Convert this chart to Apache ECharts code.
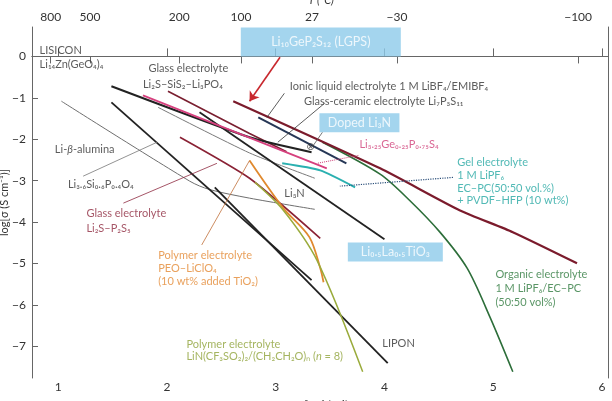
<!DOCTYPE html>
<html>
<head>
<meta charset="utf-8">
<script src="https://cdn.jsdelivr.net/npm/echarts@6/dist/echarts.min.js"></script>
<style>html,body{margin:0;padding:0;background:#fff}#chart{width:612px;height:401px}</style>
</head>
<body>
<div id="chart"></div>
<script>
var xTicks = [1, 2, 3, 4, 5, 6];
var yTicks = [-7, -6, -5, -4, -3, -2, -1, 0];
var tempTicks = [800, 500, 200, 100, 27, -30, -100];

// conductivity curves: [1000/T, log sigma]
var lgps = [[2.61, -1.08], [3.96, -2.70], [4.69, -3.71], [5.18, -4.24], [5.77, -4.99]];
var ionicLiquid = [[2.84, -1.47], [3.65, -2.58]];
var glassCeramic = [[1.49, -0.72], [2.76, -1.95], [3.33, -2.31]];
var thioLisicon = [[1.78, -0.94], [3.47, -2.70]];
var glassSiS2 = [[2.01, -0.84], [2.76, -1.86], [3.10, -2.30]];
var glassP2S5 = [[2.12, -1.95], [2.76, -2.94], [3.41, -4.39]];
var lisicon = [[1.03, -1.08], [2.21, -3.01], [2.39, -3.21], [2.76, -3.42], [3.36, -3.69]];
var betaAlumina = [[1.92, -1.23], [2.76, -2.33], [3.36, -2.94]];
var li3n = [[1.49, -1.11], [3.33, -5.40]];
var lipon = [[2.44, -3.16], [4.03, -7.40]];
var llto = [[2.30, -1.35], [4.00, -4.41]];
var peo = [[2.76, -2.51], [3.07, -3.66], [3.31, -4.36], [3.41, -5.11], [3.44, -5.45]];
var peoImide = [[2.81, -3.04], [3.07, -3.71], [3.38, -4.92], [3.80, -7.61]];
var gel = [[3.06, -2.58], [3.41, -2.75], [3.73, -3.16]];
var organic = [[3.43, -2.07], [3.96, -2.84], [4.23, -3.47], [4.51, -4.24], [4.76, -5.11], [4.97, -6.29], [5.18, -7.61]];

// leader lines
var leadSi = [[1.23, -2.89], [1.91, -2.07]];
var leadP2S5 = [[1.60, -3.54], [2.46, -2.58]];
var leadIonic = [[3.08, -0.89], [2.92, -1.47]];
var leadCeramic = [[3.45, -1.13], [3.02, -2.07]];
var leadDoped = [[3.43, -1.83], [3.34, -2.17]];
var leadThio = [[3.76, -2.39], [3.38, -2.58]];
var leadGel = [[4.63, -2.92], [3.59, -3.13]];
var leadPeo = [[2.32, -4.55], [2.76, -2.51]];
var arrowLgps = [[3.04, -0.02], [2.76, -1.08]];
var dopedLi3n = [[3.32, -2.19]];

// text notes: x, y, text, colour key
var notes = [
  [0.83, 0.15, 'LISICON', 'k'],
  [0.83, -0.19, 'Li₁₄Zn(GeO₄)₄', 'k'],
  [1.83, -0.29, 'Glass electrolyte', 'k'],
  [1.78, -0.68, 'Li₂S–SiS₂–Li₃PO₄', 'k'],
  [3.13, -0.72, 'Ionic liquid electrolyte 1 M LiBF₄/EMIBF₄', 'k'],
  [3.26, -1.08, 'Glass-ceramic electrolyte Li₇P₃S₁₁', 'k'],
  [3.77, -2.12, 'Li₃.₂₅Ge₀.₂₅P₀.₇₅S₄', 'p'],
  [0.97, -2.24, 'Li-{i|β}-alumina', 'k'],
  [1.09, -3.08, 'Li₃.₆Si₀.₆P₀.₄O₄', 'k'],
  [1.26, -3.78, 'Glass electrolyte', 'm'],
  [1.26, -4.15, 'Li₂S–P₂S₅', 'm'],
  [3.08, -3.30, 'Li₃N', 'k'],
  [4.67, -2.55, 'Gel electrolyte', 't'],
  [4.67, -2.87, '1 M LiPF₆', 't'],
  [4.67, -3.18, 'EC–PC(50:50 vol.%)', 't'],
  [4.67, -3.47, '+ PVDF–HFP (10 wt%)', 't'],
  [1.92, -4.80, 'Polymer electrolyte', 'o'],
  [1.92, -5.11, 'PEO–LiClO₄', 'o'],
  [1.92, -5.42, '(10 wt% added TiO₂)', 'o'],
  [2.18, -6.94, 'Polymer electrolyte', 'v'],
  [2.18, -7.25, 'LiN(CF₃SO₂)₂/(CH₂CH₂O)ₙ ({i|n} = 8)', 'v'],
  [3.98, -6.92, 'LIPON', 'k'],
  [5.02, -5.25, 'Organic electrolyte', 'g'],
  [5.02, -5.59, '1 M LiPF₆/EC–PC', 'g'],
  [5.02, -5.93, '(50:50 vol%)', 'g']
];

// blue boxes: x, y, text, width, height
var boxes = [
  [3.415, 0.35, 'Li₁₀GeP₂S₁₂ (LGPS)', 160, 29],
  [3.77, -1.60, 'Doped Li₃N', 80, 19],
  [4.10, -4.72, 'Li₀.₅La₀.₅TiO₃', 95, 19]
];

var noteColors = {k: '#333333', p: '#cf3f78', m: '#8e2a40', t: '#25a8a3', o: '#e38a35', v: '#8ea23a', g: '#2f7a3e'};
var FONT = 'Lato';

var dom = document.getElementById('chart');
var myChart = echarts.init(dom);

var series = [];
function addLine(data, color, width, smooth, dash) {
  series.push({
    type: 'line',
    data: data,
    showSymbol: false,
    symbol: 'none',
    smooth: smooth || false,
    silent: true,
    lineStyle: {color: color, width: width, type: dash || 'solid'},
    z: 3
  });
}

addLine(lisicon, '#6f6f6f', 1, 0.3);
addLine(betaAlumina, '#7a7a7a', 1, 0.2);
addLine(glassP2S5, '#8a2235', 1.6, 0.2);
addLine(glassSiS2, '#7a1f30', 1.6);
addLine(li3n, '#222222', 1.8);
addLine(lipon, '#222222', 1.8);
addLine(llto, '#222222', 1.8);
addLine(glassCeramic, '#222222', 2, 0.2);
addLine(thioLisicon, '#d6407e', 1.8);
addLine(ionicLiquid, '#263756', 2);
addLine(peo, '#e0892e', 1.8, 0.3);
addLine(peoImide, '#9aab3c', 1.5, 0.3);
addLine(gel, '#2ab0b0', 2, 0.2);
addLine(organic, '#2d6e3a', 1.6, 0.3);
addLine(lgps, '#7b1b2c', 2.2, 0.2);

addLine(leadSi, '#777777', 0.8);
addLine(leadP2S5, '#8e2a40', 0.8);
addLine(leadIonic, '#333333', 0.8);
addLine(leadCeramic, '#333333', 0.8);
addLine(leadDoped, '#555555', 0.8);
addLine(leadThio, '#cf3f78', 1, false, 'dotted');
addLine(leadGel, '#2b4f7a', 1.2, false, 'dotted');
addLine(leadPeo, '#c0703a', 0.8);

series.push({
  type: 'line',
  data: [],
  silent: true,
  markLine: {
    silent: true,
    symbol: ['none', 'arrow'],
    symbolSize: 9,
    label: {show: false},
    lineStyle: {color: '#c8282e', width: 1.6, type: 'solid'},
    data: [[{coord: arrowLgps[0]}, {coord: arrowLgps[1]}]]
  }
});

series.push({
  type: 'scatter',
  data: dopedLi3n,
  symbolSize: 0,
  silent: true,
  label: {show: true, position: 'inside', formatter: '⊗', fontFamily: 'DejaVu Sans', fontSize: 10, color: '#333'},
  z: 5
});

series.push({
  type: 'scatter',
  silent: true,
  symbol: 'rect',
  data: boxes.map(function (b) {
    return {value: [b[0], b[1]], name: b[2], symbolSize: [b[3], b[4]]};
  }),
  itemStyle: {color: '#8dcaea'},
  label: {show: true, position: 'inside', formatter: '{b}', color: '#ffffff', fontFamily: FONT, fontSize: 12.5},
  z: 6
});

series.push({
  type: 'scatter',
  silent: true,
  symbolSize: 0,
  data: notes.map(function (n) {
    return {
      value: [n[0], n[1]],
      label: {formatter: n[2], color: noteColors[n[3]]}
    };
  }),
  label: {
    show: true,
    position: 'right',
    distance: 0,
    fontFamily: FONT,
    fontSize: 11,
    rich: {i: {fontStyle: 'italic', fontFamily: FONT, fontSize: 11}}
  },
  z: 7
});

function minus(v) {
  return v < 0 ? '−' + Math.abs(v) : String(v);
}

var tempPos = tempTicks.map(function (t) { return 1000 / (t + 273); });

var axisCommon = {
  type: 'value',
  min: 0.76,
  max: 6.055,
  splitLine: {show: false},
  nameMoveOverlap: false,
  axisLine: {lineStyle: {color: '#666', width: 1}}
};

option = {
  animation: false,
  backgroundColor: '#fff',
  grid: {left: 32, right: 4, top: 27, bottom: 23, containLabel: false, outerBoundsMode: 'none'},
  xAxis: [
    Object.assign({}, axisCommon, {
      position: 'bottom',
      name: '10³ T⁻¹ (K⁻¹)',
      nameLocation: 'middle',
      nameGap: 22,
      nameTextStyle: {fontFamily: FONT, fontSize: 11, color: '#333'},
      axisTick: {inside: true, length: 8, customValues: xTicks, lineStyle: {color: '#666'}},
      axisLabel: {customValues: xTicks, margin: 3, hideOverlap: false, fontFamily: FONT, fontSize: 12, color: '#333'}
    }),
    Object.assign({}, axisCommon, {
      position: 'top',
      axisTick: {inside: true, length: 7, customValues: tempPos, lineStyle: {color: '#666'}},
      axisLabel: {show: false}
    })
  ],
  yAxis: [
    {
      type: 'value',
      min: -7.76,
      max: 0.71,
      position: 'left',
      splitLine: {show: false},
      name: 'log[σ (S cm⁻¹)]',
      nameLocation: 'middle',
      nameGap: 22,
      nameRotate: 90,
      nameMoveOverlap: false,
      nameTextStyle: {fontFamily: FONT, fontSize: 11, color: '#333'},
      axisLine: {show: true, lineStyle: {color: '#666', width: 1}},
      axisTick: {show: true, inside: true, length: 6, customValues: yTicks, lineStyle: {color: '#666'}},
      axisLabel: {customValues: yTicks, margin: 6, fontFamily: FONT, fontSize: 12, color: '#333', formatter: minus}
    },
    {
      type: 'value',
      min: -7.76,
      max: 0.71,
      position: 'right',
      splitLine: {show: false},
      axisLine: {show: true, lineStyle: {color: '#666', width: 1}},
      axisTick: {show: false},
      axisLabel: {show: false}
    }
  ],
  series: series
};

if (option && typeof option === 'object') {
  myChart.setOption(option, true);

  // temperature scale on top, placed through the x axis
  var gridTop = 27;
  var graphics = tempTicks.map(function (t, i) {
    var px = myChart.convertToPixel({xAxisIndex: 0}, tempPos[i]);
    return {
      type: 'text',
      x: px,
      y: gridTop - 10,
      silent: true,
      style: {text: minus(t), fill: '#333', font: '12px Lato', align: 'center', verticalAlign: 'middle'}
    };
  });
  graphics.push({
    type: 'text',
    x: myChart.convertToPixel({xAxisIndex: 0}, 3.3),
    y: 0,
    silent: true,
    style: {text: 'T (°C)', fill: '#333', font: 'italic 11px Lato', align: 'left', verticalAlign: 'middle'}
  });
  myChart.setOption({graphic: graphics});
}
</script>
</body>
</html>
